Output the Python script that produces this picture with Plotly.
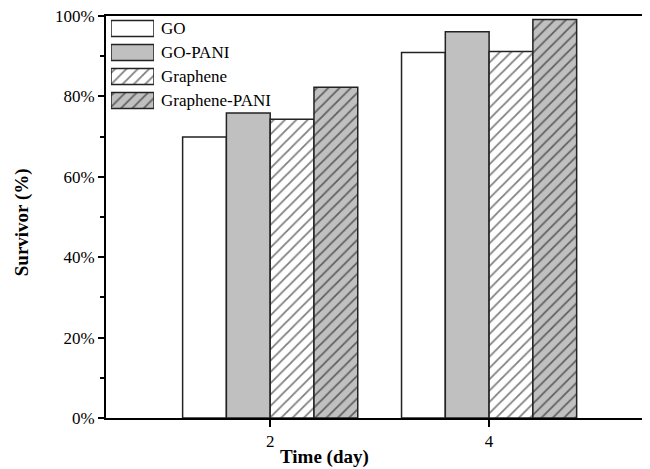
import plotly.graph_objects as go

days = [2, 4]
series_names = ["GO", "GO-PANI", "Graphene", "Graphene-PANI"]
go_vals = [69.9, 90.9]
go_pani_vals = [75.9, 96.1]
graphene_vals = [74.3, 91.2]
graphene_pani_vals = [82.3, 99.1]
y_ticks = [0, 20, 40, 60, 80, 100]
y_tick_labels = ["0%", "20%", "40%", "60%", "80%", "100%"]

all_vals = [go_vals, go_pani_vals, graphene_vals, graphene_pani_vals]
fills = ["white", "#c0c0c0", "white", "#c0c0c0"]
shapes = ["", "", "/", "/"]
offsets = [-0.8, -0.4, 0.0, 0.4]

FONT = "Liberation Serif"

def marker_for(fc, sh):
    m = dict(color=fc, line=dict(color="#222222", width=1.5))
    if sh:
        m["pattern"] = dict(shape=sh, fgcolor="black", bgcolor=fc,
                            size=8, solidity=0.22, fillmode="overlay")
    return m

fig = go.Figure()

for name, vals, fc, sh, off in zip(series_names, all_vals, fills, shapes, offsets):
    fig.add_trace(go.Bar(
        x=days, y=vals, name=name, width=0.4, offset=off,
        marker=marker_for(fc, sh), showlegend=False,
    ))

# Legend swatches drawn as bars on an auxiliary axis
for i, (name, fc, sh) in enumerate(zip(series_names, fills, shapes)):
    fig.add_trace(go.Bar(
        x=[1], y=[i], base=[0], orientation="h", width=0.667,
        xaxis="x2", yaxis="y2", showlegend=False, hoverinfo="skip",
        marker=marker_for(fc, sh),
    ))

# page body has an 8px margin; work in screen coordinates and compensate
OFF = 8
SW, SH = 650, 469
W, H = SW - OFF, SH - OFF
L = 106 - OFF
R = 0
T = 15.5 - OFF
B = SH - 418
pw, ph = W - L - R, H - T - B

def px_x(x):
    return (x - OFF - L) / pw

def px_y(y):
    return (H - B - (y - OFF)) / ph

annotations = []
for i, name in enumerate(series_names):
    annotations.append(dict(
        x=px_x(159), y=px_y(28 + 24 * i), xref="paper", yref="paper",
        text=name, showarrow=False, xanchor="left", yanchor="middle",
        font=dict(family=FONT, size=17, color="black")))

annotations.append(dict(
    x=px_x(324), y=px_y(457), xref="paper", yref="paper", text="<b>Time (day)</b>",
    showarrow=False, xanchor="center", yanchor="middle",
    font=dict(family=FONT, size=19, color="black")))
annotations.append(dict(
    x=px_x(22), y=px_y(222), xref="paper", yref="paper", text="<b>Survivor (%)</b>",
    showarrow=False, xanchor="center", yanchor="middle", textangle=-90,
    font=dict(family=FONT, size=19, color="black")))

fig.update_layout(
    width=W, height=H,
    margin=dict(l=L, r=R, t=T, b=B),
    paper_bgcolor="white", plot_bgcolor="white",
    barmode="overlay",
    font=dict(family=FONT, size=16, color="black"),
    xaxis=dict(range=[0.5, 5.47], tickvals=days, ticktext=[str(d) for d in days],
               ticks="outside", ticklen=7, tickwidth=1.5, tickcolor="black",
               showline=True, linecolor="black", linewidth=2, mirror=True,
               showgrid=False, zeroline=False, tickfont=dict(family=FONT, size=17),
               ticklabeloverflow="allow"),
    yaxis=dict(range=[0, 100], tickvals=y_ticks, ticktext=y_tick_labels,
               ticks="outside", ticklen=6, tickwidth=1.5, tickcolor="black",
               minor=dict(dtick=10, ticks="outside", ticklen=4, tickwidth=1.5, tickcolor="black"),
               showline=True, linecolor="black", linewidth=2,
               showgrid=False, zeroline=False, tickfont=dict(family=FONT, size=17),
               ticklabeloverflow="allow"),
    xaxis2=dict(domain=[px_x(111), px_x(154)], range=[0, 1], anchor="y2",
                visible=False, fixedrange=True),
    yaxis2=dict(domain=[px_y(112), px_y(16)], range=[3.5, -0.5], anchor="x2",
                visible=False, fixedrange=True),
    annotations=annotations,
)

fig.write_html("out.html")
